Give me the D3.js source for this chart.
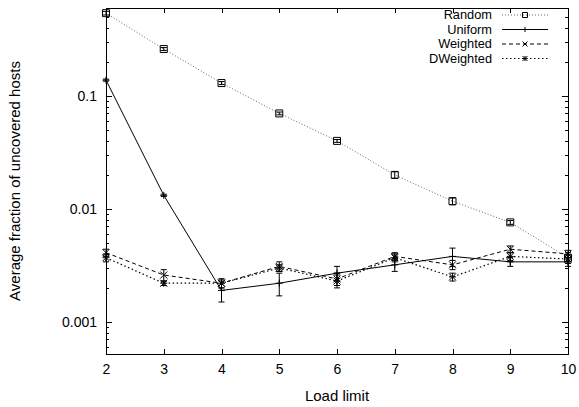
<!DOCTYPE html>
<html>
<head>
<meta charset="utf-8">
<script src="https://cdn.jsdelivr.net/npm/d3@7"></script>
<style>
  body { margin: 0; background: #fff; }
  svg { display: block; }
  text { font-family: "Liberation Sans", Arial, sans-serif; fill: #000; }
</style>
</head>
<body>
<div id="chart1"></div>
<script>
var width = 579;
var height = 407;

// chart data
var loadLimits = [2, 3, 4, 5, 6, 7, 8, 9, 10];
var seriesNames = ["Random", "Uniform", "Weighted", "DWeighted"];
var randomVals = [0.54, 0.26, 0.13, 0.070, 0.040, 0.0200, 0.0117, 0.0076, 0.0037];
var randomErr = [0.02, 0.008, 0.004, 0.002, 0.0012, 0.0013, 0.0008, 0.0003, 0.0004];
var uniformVals = [0.138, 0.0132, 0.0019, 0.0022, 0.0027, 0.0032, 0.0038, 0.0034, 0.0034];
var uniformErr = [0.003, 0.0003, 0.0004, 0.0005, 0.0004, 0.0004, 0.0007, 0.0003, 0.0003];
var weightedVals = [0.0041, 0.0026, 0.0022, 0.0031, 0.0024, 0.0038, 0.0032, 0.0044, 0.0040];
var weightedErr = [0.0003, 0.0003, 0.0002, 0.0003, 0.0003, 0.0003, 0.0003, 0.0003, 0.0003];
var dweightedVals = [0.0037, 0.0022, 0.0022, 0.0030, 0.0023, 0.0037, 0.0025, 0.0038, 0.0036];
var dweightedErr = [0.0003, 0.0001, 0.0002, 0.0002, 0.0003, 0.0003, 0.0002, 0.0003, 0.0003];
var yTickVals = [0.001, 0.01, 0.1];
var yTickLabels = ["0.001", "0.01", "0.1"];

var padding = { t: 8, r: 11, b: 53, l: 106 };
var plotW = width - padding.l - padding.r;
var plotH = height - padding.t - padding.b;

var xScale = d3.scaleLinear().domain([2, 10]).range([0, plotW]);
var yScale = d3.scaleLog().domain([0.00052, 0.6]).range([plotH, 0]);

// minor log ticks 2..9 of each decade
var minorTicks = [];
[0.0001, 0.001, 0.01, 0.1].forEach(function (dec) {
    for (var k = 2; k <= 9; k++) {
        var v = dec * k;
        if (v >= 0.00052 && v <= 0.6) minorTicks.push(v);
    }
});

var styles = {
    Random:    { dash: "1,2", color: "#666", width: 1, marker: "square" },
    Uniform:   { dash: null, color: "#000", width: 1, marker: "plus" },
    Weighted:  { dash: "4,3", color: "#000", width: 1, marker: "cross" },
    DWeighted: { dash: "1.5,2.5", color: "#000", width: 1.2, marker: "star" }
};

var series = [
    { name: "Random", vals: randomVals, err: randomErr },
    { name: "Uniform", vals: uniformVals, err: uniformErr },
    { name: "Weighted", vals: weightedVals, err: weightedErr },
    { name: "DWeighted", vals: dweightedVals, err: dweightedErr }
];

var svg = d3.select("#chart1")
    .append("svg")
    .attr("width", width)
    .attr("height", height);

var chartGroup = svg.append("g")
    .attr("transform", `translate(${padding.l},${padding.t})`);

// ticks, gnuplot style: inward on all four sides
var tickG = chartGroup.append("g").attr("stroke", "#000").attr("stroke-width", 1);

xScale.ticks(8).forEach(function (v) {
    var x = Math.round(xScale(v)) + 0.5;
    tickG.append("line").attr("x1", x).attr("x2", x).attr("y1", plotH).attr("y2", plotH - 5);
    tickG.append("line").attr("x1", x).attr("x2", x).attr("y1", 0).attr("y2", 5);
});
yTickVals.forEach(function (v) {
    var y = Math.round(yScale(v)) + 0.5;
    tickG.append("line").attr("x1", 0).attr("x2", 6).attr("y1", y).attr("y2", y);
    tickG.append("line").attr("x1", plotW).attr("x2", plotW - 6).attr("y1", y).attr("y2", y);
});
minorTicks.forEach(function (v) {
    var y = Math.round(yScale(v)) + 0.5;
    tickG.append("line").attr("x1", 0).attr("x2", 3).attr("y1", y).attr("y2", y);
    tickG.append("line").attr("x1", plotW).attr("x2", plotW - 3).attr("y1", y).attr("y2", y);
});

// axes labels via d3 axes (tick lines hidden, labels kept)
var xAxis = d3.axisBottom(xScale).ticks(8).tickSize(0).tickPadding(10).tickFormat(d3.format("d"));
var yAxis = d3.axisLeft(yScale).tickValues(yTickVals).tickSize(0).tickPadding(9)
    .tickFormat(function (d, i) { return yTickLabels[i]; });

chartGroup.append("g")
    .attr("transform", `translate(0,${plotH})`)
    .call(xAxis)
    .call(g => g.select(".domain").remove())
    .selectAll("text")
    .style("font-size", "14px")
    .attr("font-family", null);

chartGroup.append("g")
    .call(yAxis)
    .call(g => g.select(".domain").remove())
    .selectAll("text")
    .style("font-size", "14px")
    .attr("font-family", null);

// markers
function markerPath(type, x, y, s) {
    s = s || 3.5;
    if (type === "square") return `M${x - s},${y - s}H${x + s}V${y + s}H${x - s}Z`;
    if (type === "plus") return `M${x - s},${y}H${x + s}M${x},${y - s}V${y + s}`;
    if (type === "cross") return `M${x - s},${y - s}L${x + s},${y + s}M${x - s},${y + s}L${x + s},${y - s}`;
    return `M${x - s},${y}H${x + s}M${x},${y - s}V${y + s}M${x - s},${y - s}L${x + s},${y + s}M${x - s},${y + s}L${x + s},${y - s}`;
}

var plotArea = chartGroup.append("g");

series.forEach(function (s) {
    var st = styles[s.name];
    var pts = loadLimits.map((x, i) => ({ x: x, v: s.vals[i], e: s.err[i] }));

    var line = d3.line()
        .x(d => xScale(d.x))
        .y(d => yScale(d.v));

    plotArea.append("path")
        .datum(pts)
        .attr("fill", "none")
        .attr("stroke", st.color)
        .attr("stroke-width", st.width)
        .attr("stroke-dasharray", st.dash)
        .attr("d", line);

    // error bars
    var eb = plotArea.append("g").attr("stroke", "#000").attr("stroke-width", 1);
    pts.forEach(function (d) {
        var x = xScale(d.x);
        var y1 = yScale(d.v - d.e), y2 = yScale(d.v + d.e);
        eb.append("line").attr("x1", x).attr("x2", x).attr("y1", y1).attr("y2", y2);
        eb.append("line").attr("x1", x - 3).attr("x2", x + 3).attr("y1", y1).attr("y2", y1);
        eb.append("line").attr("x1", x - 3).attr("x2", x + 3).attr("y1", y2).attr("y2", y2);
    });

    plotArea.selectAll(".m-" + s.name)
        .data(pts)
        .enter()
        .append("path")
        .attr("class", "m-" + s.name)
        .attr("fill", "none")
        .attr("stroke", "#000")
        .attr("stroke-width", 1)
        .attr("d", d => markerPath(st.marker, xScale(d.x), yScale(d.v)));
});

// border
chartGroup.append("rect")
    .attr("x", 0.5).attr("y", 0.5)
    .attr("width", plotW).attr("height", plotH)
    .attr("fill", "none")
    .attr("stroke", "#000")
    .attr("stroke-width", 1);

// legend
var legend = chartGroup.append("g");
seriesNames.forEach(function (name, i) {
    var st = styles[name];
    var y = 7 + i * 14.5;
    legend.append("text")
        .attr("x", 386)
        .attr("y", y)
        .attr("dy", "0.35em")
        .attr("text-anchor", "end")
        .style("font-size", "12.8px")
        .text(name);
    legend.append("line")
        .attr("x1", 396).attr("x2", 442)
        .attr("y1", y).attr("y2", y)
        .attr("stroke", st.color)
        .attr("stroke-width", st.width)
        .attr("stroke-dasharray", st.dash);
    legend.append("path")
        .attr("fill", "none")
        .attr("stroke", "#000")
        .attr("d", markerPath(st.marker, 419, y, 2.5));
});

// axis titles
svg.append("text")
    .attr("x", padding.l + plotW / 2)
    .attr("y", height - 6)
    .attr("text-anchor", "middle")
    .style("font-size", "15px")
    .text("Load limit");

svg.append("text")
    .attr("transform", `translate(20,${padding.t + plotH / 2}) rotate(-90)`)
    .attr("text-anchor", "middle")
    .style("font-size", "15px")
    .text("Average fraction of uncovered hosts");
</script>
</body>
</html>
